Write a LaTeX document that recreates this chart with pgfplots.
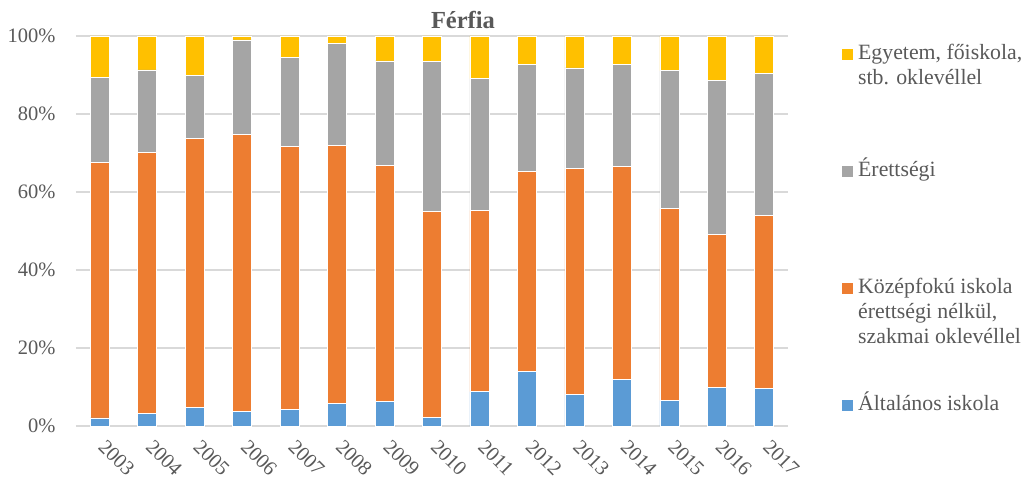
\documentclass[border=0pt]{standalone}
\usepackage{pgfplots}
\pgfplotsset{compat=1.18}
\usepackage{pgfplotstable}
\usepackage{fontspec}
\setmainfont{Liberation Serif}

\definecolor{cBlue}{HTML}{5B9BD5}
\definecolor{cOrange}{HTML}{ED7D31}
\definecolor{cGray}{HTML}{A5A5A5}
\definecolor{cYellow}{HTML}{FFC000}
\definecolor{txtgray}{HTML}{595959}
\definecolor{gridgray}{HTML}{D9D9D9}

% shares in percent, bottom to top
\pgfplotstableread{
x year alt koz eret egy
0  2003 2.1  65.5 21.7 10.7
1  2004 3.3  66.9 21.1 8.7
2  2005 4.7  69.0 16.1 10.2
3  2006 3.8  71.0 24.2 1.0
4  2007 4.2  67.4 23.0 5.4
5  2008 5.8  66.2 26.0 2.0
6  2009 6.3  60.5 26.8 6.4
7  2010 2.2  52.8 38.4 6.6
8  2011 8.8  46.5 33.8 10.9
9  2012 14.0 51.3 27.5 7.2
10 2013 8.2  57.8 25.8 8.2
11 2014 11.9 54.7 26.2 7.2
12 2015 6.6  49.1 35.4 8.9
13 2016 9.9  39.3 39.5 11.3
14 2017 9.6  44.4 36.5 9.5
}\datatable

\begin{document}
\begin{tikzpicture}
\useasboundingbox (0,0) rectangle (1021pt,483pt);
\begin{axis}[
    at={(76pt,57pt)}, anchor=south west,
    scale only axis,
    width=712pt, height=390pt,
    ybar stacked,
    bar width=19pt,
    xmin=-0.5, xmax=14.5,
    ymin=0, ymax=100,
    enlargelimits=false,
    xtick=data,
    xticklabels={2003,2004,2005,2006,2007,2008,2009,2010,2011,2012,2013,2014,2015,2016,2017},
    ytick={0,20,40,60,80,100},
    yticklabels={0\%,20\%,40\%,60\%,80\%,100\%},
    ymajorgrids=true,
    grid style={gridgray, line width=1.3pt},
    axis line style={draw=none},
    major tick length=0pt,
    tick label style={font=\fontsize{20.5}{24}\selectfont, text=txtgray},
    yticklabel style={xshift=-17pt},
    xticklabel style={rotate=-45, anchor=west},
    xticklabel shift=15pt,
    title={Férfia},
    title style={at={(axis description cs:0.5435,1.0051)}, anchor=base,
      font=\bfseries\fontsize{24.5}{28}\selectfont, text=txtgray},
    legend image code/.code={\fill[#1,draw=none] (0pt,0pt) rectangle (11pt,11pt);},
    reverse legend,
    legend style={
      at={(axis description cs:1.0758,0.975)}, anchor=north west,
      draw=none, fill=none, inner sep=0pt,
      font=\fontsize{21.8}{25}\selectfont, text=txtgray,
      cells={anchor=base west},
      nodes={inner sep=0pt, text height=14pt, text depth=56pt},
      row sep=47pt,
      /tikz/every odd column/.append style={column sep=5pt},
    },
  ]
  \addplot[fill=cBlue, draw=white, line width=0.6pt] table[x=x, y=alt] {\datatable};
  \addlegendentry{Általános iskola}
  \addplot[fill=cOrange, draw=white, line width=0.6pt] table[x=x, y=koz] {\datatable};
  \addlegendentry{\begin{tabular}[t]{@{}l@{}}Középfokú iskola\\érettségi nélkül,\\szakmai oklevéllel\end{tabular}}
  \addplot[fill=cGray, draw=white, line width=0.6pt] table[x=x, y=eret] {\datatable};
  \addlegendentry{Érettségi}
  \addplot[fill=cYellow, draw=white, line width=0.6pt] table[x=x, y=egy] {\datatable};
  \addlegendentry{\begin{tabular}[t]{@{}l@{}}Egyetem, főiskola,\\stb. oklevéllel\end{tabular}}
\end{axis}
\end{tikzpicture}
\end{document}
